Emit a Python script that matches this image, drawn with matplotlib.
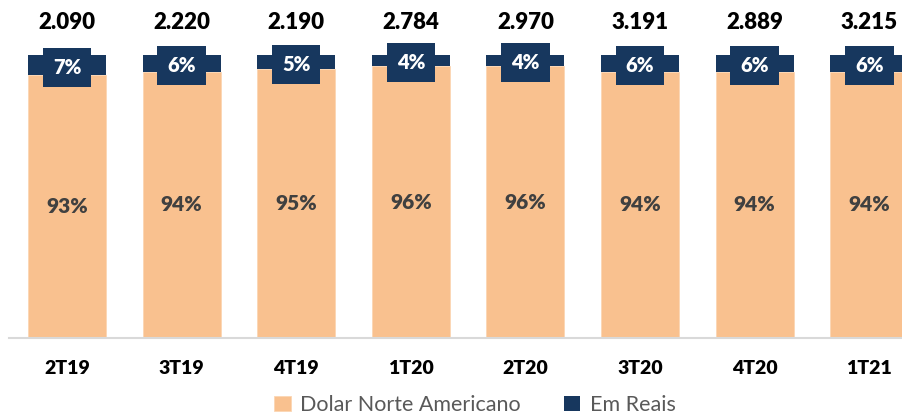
import matplotlib
matplotlib.use("Agg")
import matplotlib.pyplot as plt
import numpy as np

plt.rcParams["font.family"] = ["Lato", "DejaVu Sans"]

quarters = ["2T19", "3T19", "4T19", "1T20", "2T20", "3T20", "4T20", "1T21"]
totals = ["2.090", "2.220", "2.190", "2.784", "2.970", "3.191", "2.889", "3.215"]
usd_pct = [93, 94, 95, 96, 96, 94, 94, 94]
brl_pct = [7, 6, 5, 4, 4, 6, 6, 6]

ORANGE = "#F9C18F"
NAVY = "#17375E"

fig = plt.figure(figsize=(9.03, 4.17), dpi=100, facecolor="white")
ax = fig.add_axes([9 / 903, 79 / 417, 894 / 903, 283 / 417])

x = np.arange(len(quarters))
ax.bar(x, usd_pct, width=0.68, color=ORANGE, edgecolor="#FBD6B4", linewidth=0.6,
       label="Dolar Norte Americano")
ax.bar(x, brl_pct, bottom=usd_pct, width=0.68, color=NAVY, label="Em Reais")

for xi, u, b, t in zip(x, usd_pct, brl_pct, totals):
    ax.text(xi, u / 2, f"{u}%", ha="center", va="center", fontsize=15,
            fontweight="heavy", color="#404040")
    ax.text(xi, u + b / 2 - 0.8, f"{b}%", ha="center", va="center", fontsize=14.5,
            fontweight="heavy", color="white",
            bbox=dict(boxstyle="square,pad=0.5", facecolor=NAVY, edgecolor="none"))
    ax.text(xi, 111.5, t, ha="center", va="center", fontsize=16,
            fontweight="heavy", color="black")

ax.set_xlim(-0.506, 7.295)
ax.set_ylim(0, 100)
ax.set_yticks([])
ax.set_xticks(x)
ax.set_xticklabels(quarters, fontsize=14, fontweight="heavy")
ax.tick_params(axis="x", length=0, pad=16)
for s in ["top", "right", "left"]:
    ax.spines[s].set_visible(False)
ax.spines["bottom"].set_color("#D9D9D9")
ax.spines["bottom"].set_linewidth(1.5)

leg = fig.legend(loc="center", bbox_to_anchor=(475 / 903, 12 / 417), ncol=2, frameon=False,
                 fontsize=15.5, handlelength=0.75, handleheight=0.75,
                 columnspacing=2.0, handletextpad=0.45)
for t in leg.get_texts():
    t.set_color("#595959")

fig.savefig("out.png", dpi=100, facecolor="white")
